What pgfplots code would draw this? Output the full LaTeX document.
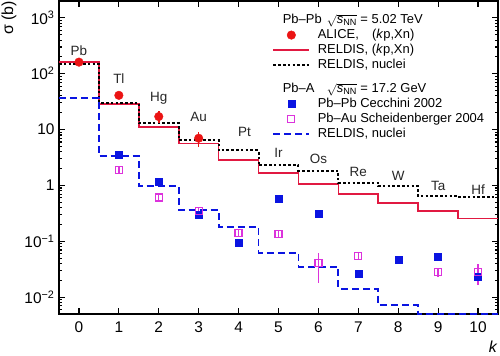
\documentclass[border=0pt]{standalone}
\usepackage{fontspec}
\setmainfont{Liberation Sans}
\usepackage{amsmath}
\usepackage{pgfplots}
\pgfplotsset{compat=1.18}
\definecolor{cred}{RGB}{235,20,20}
\definecolor{crimson}{RGB}{225,25,65}
\definecolor{cblue}{RGB}{10,20,225}
\definecolor{cmag}{RGB}{220,50,220}
\pgfplotsset{mylegimg/.style={legend image code/.code={\draw[mark repeat=2,mark phase=2,##1] plot coordinates {(0bp,0bp) (18bp,0bp) (36bp,0bp)};}}}
\begin{document}
\begin{tikzpicture}
\begin{axis}[name=ax, scale only axis, width=439bp, height=313bp,
  xmin=-0.5, xmax=10.5, ymode=log, ymin=0.005, ymax=2000,
  clip=false,
  xtick={0,...,10}, xticklabels={0,1,2,3,4,5,6,7,8,9,10},
  ytick={0.01,0.1,1,10,100,1000},
  yticklabels={10\textsuperscript{−2},10\textsuperscript{−1},1,10,10\textsuperscript{2},10\textsuperscript{3}},
  minor ytick={0.006,0.007,0.008,0.009,0.02,0.03,0.04,0.05,0.06,0.07,0.08,0.09,0.2,0.3,0.4,0.5,0.6,0.7,0.8,0.9,2,3,4,5,6,7,8,9,20,30,40,50,60,70,80,90,200,300,400,500,600,700,800,900},
  tick align=inside,
  major tick length=6bp, minor tick length=3.5bp,
  every tick/.style={black, line width=1.1bp},
  axis line style={line width=1.6bp},
  tick label style={font=\fontsize{15.5}{16}\selectfont},
  xticklabel style={yshift=-4bp},
  yticklabel style={xshift=-1bp},
  ylabel={σ (b)},
  ylabel style={at={(rel axis cs:-0.114,0.946)}, anchor=center, font=\fontsize{16}{17}\selectfont},
  xlabel={\textit{k}},
  xlabel style={at={(rel axis cs:0.989,-0.105)}, anchor=center, font=\fontsize{16}{17}\selectfont},
  mylegimg,
  legend cell align=left,
  legend style={at={(0.486,0.963)}, anchor=north west, draw=none, fill=none,
    inner sep=0pt, outer sep=0pt, row sep=0pt, column sep=7bp,
    font=\fontsize{13}{15}\selectfont,
    nodes={inner sep=0.5bp, text height=10.5bp, text depth=3.5bp}},
]
% legend
\addlegendimage{empty legend}
\addlegendentry{\hspace*{-35bp}\makebox[44bp][l]{Pb–Pb}$\sqrt{\textit{s}_{\text{NN}}}$ = 5.02 TeV}
\addlegendimage{only marks, mark=*, cred, mark size=4.3bp, mylegimg}
\addlegendentry{ALICE,\hspace{13.2bp}(\textit{k}p,Xn)}
\addlegendimage{crimson, line width=1.7bp}
\addlegendentry{RELDIS, (\textit{k}p,Xn)}
\addlegendimage{black, line width=2bp, dash pattern=on 2.6bp off 2.2bp}
\addlegendentry{RELDIS, nuclei}
\addlegendimage{empty legend}
\addlegendentry[text height=19.5bp]{\hspace*{-35bp}\makebox[44bp][l]{Pb–A}$\sqrt{\textit{s}_{\text{NN}}}$ = 17.2 GeV}
\addlegendimage{only marks, mark=square*, cblue, mark size=3.5bp, mylegimg}
\addlegendentry{Pb–Pb Cecchini 2002}
\addlegendimage{only marks, mark=square, cmag, mark options={fill=white, line width=1.2bp}, mark size=3.5bp, mylegimg}
\addlegendentry{Pb–Au Scheidenberger 2004}
\addlegendimage{cblue, line width=1.8bp, dash pattern=on 7bp off 4bp}
\addlegendentry{RELDIS, nuclei}

% RELDIS (kp,Xn) Pb-Pb 5.02 TeV
\addplot[const plot, crimson, line width=1.7bp, forget plot] coordinates {
(-0.5,161) (0.5,28.5) (1.5,11.2) (2.5,5.6) (3.5,2.88) (4.5,1.69) (5.5,1.05) (6.5,0.71) (7.5,0.49) (8.5,0.35) (9.5,0.257) (10.5,0.257)};
% RELDIS nuclei Pb-Pb 5.02 TeV
\addplot[const plot, black, line width=2bp, dash pattern=on 2.6bp off 2.2bp, forget plot] coordinates {
(-0.5,152) (0.5,30) (1.5,12.9) (2.5,6.45) (3.5,4.23) (4.5,2.28) (5.5,1.83) (6.5,1.12) (7.5,0.97) (8.5,0.645) (9.5,0.62) (10.5,0.62)};
% RELDIS nuclei Pb-A 17.2 GeV
\addplot[const plot, cblue, line width=1.8bp, dash pattern=on 7bp off 4bp, forget plot] coordinates {
(-0.5,37) (0.5,3.35) (1.5,0.97) (2.5,0.36) (3.5,0.18) (4.5,0.062) (5.5,0.035) (6.5,0.0142) (7.5,0.0073) (8.5,0.005) (9.5,0.005) (10.5,0.005)};
% Cecchini
\addplot[only marks, mark=square*, cblue, mark size=3.5bp, forget plot] coordinates {
(1,3.6) (2,1.15) (3,0.295) (4,0.094) (5,0.585) (6,0.31) (7,0.026) (8,0.047) (9,0.052) (10,0.023)};
% Scheidenberger
\addplot[only marks, mark=square, cmag, mark options={fill=white, line width=1.2bp}, mark size=3.5bp, forget plot,
  error bars/.cd, y dir=both, y explicit, error mark=none, error bar style={line width=1.4bp, cmag}] coordinates {
(1,1.88) +- (0,0.25)
(2,0.61) +- (0,0.08)
(3,0.345) +- (0,0.05)
(4,0.143) +- (0,0.02)
(5,0.137) +- (0,0.02)
(6,0.041) += (0,0.020) -= (0,0.023)
(7,0.054) +- (0,0.008)
(9,0.028) +- (0,0.005)
(10,0.028) += (0,0.011) -= (0,0.0115)};
% ALICE
\addplot[only marks, mark=*, cred, mark size=4.3bp, forget plot,
  error bars/.cd, y dir=both, y explicit, error mark=none, error bar style={line width=1.5bp, cred}] coordinates {
(0,161) +- (0,0)
(1,41) +- (0,0)
(2,17.1) +- (0,4.2)
(3,7.0) +- (0,2.2)};

% element labels
\begin{scope}[every node/.style={font=\fontsize{13.5}{14}\selectfont, text=black!85}]
\node at (axis cs:0,253) {Pb};
\node at (axis cs:1,80) {Tl};
\node at (axis cs:2,36) {Hg};
\node at (axis cs:3,16.5) {Au};
\node at (axis cs:4.15,9.2) {Pt};
\node at (axis cs:5,3.9) {Ir};
\node at (axis cs:6,3.0) {Os};
\node at (axis cs:7,1.76) {Re};
\node at (axis cs:8,1.5) {W};
\node at (axis cs:9,0.99) {Ta};
\node at (axis cs:10,0.84) {Hf};
\end{scope}
\end{axis}
\pgfresetboundingbox
\path ([shift={(-59bp,-42bp)}]ax.south west) rectangle ([shift={(2bp,1bp)}]ax.north east);
\end{tikzpicture}
\end{document}
